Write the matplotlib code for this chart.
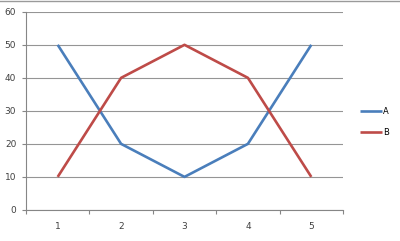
import matplotlib
matplotlib.use("Agg")
import matplotlib.pyplot as plt
from matplotlib.lines import Line2D

categories = [1, 2, 3, 4, 5]
series_a = [50, 20, 10, 20, 50]
series_b = [10, 40, 50, 40, 10]

fig = plt.figure(figsize=(4, 2.41), dpi=100)
ax = fig.add_axes([0.065, 0.129, 0.7925, 0.822])

ax.plot(categories, series_a, color="#4a7ebb", lw=1.9, label="A", solid_capstyle="butt")
ax.plot(categories, series_b, color="#be4b48", lw=1.9, label="B", solid_capstyle="butt")

ax.set_xlim(0.5, 5.5)
ax.set_ylim(0, 60)
ax.set_yticks(range(0, 61, 10))
ax.set_xticks(categories)
ax.set_xticks([0.5 + i for i in range(6)], minor=True)
ax.tick_params(axis="x", which="major", length=0, pad=9, labelsize=6.5, labelcolor="#404040")
ax.tick_params(axis="x", which="minor", length=3, color="#868686", width=0.8)
ax.tick_params(axis="y", length=3, color="#868686", width=0.8, labelsize=6.5, labelcolor="#404040", pad=4)

ax.grid(axis="y", color="#959595", lw=0.8)
ax.set_axisbelow(True)
for s in ["top", "right"]:
    ax.spines[s].set_visible(False)
for s in ["left", "bottom"]:
    ax.spines[s].set_color("#868686")
    ax.spines[s].set_linewidth(0.8)

leg = ax.legend(loc="center left", bbox_to_anchor=(1.03, 0.445), frameon=False,
                fontsize=6, handlelength=2.6, handletextpad=0.2, labelspacing=1.45)

# thin grey border along the top edge of the image
fig.add_artist(Line2D([0, 1], [0.996, 0.996], transform=fig.transFigure,
                      color="#9a9a9a", lw=1.0, zorder=10))

fig.savefig("out.png", dpi=100)
